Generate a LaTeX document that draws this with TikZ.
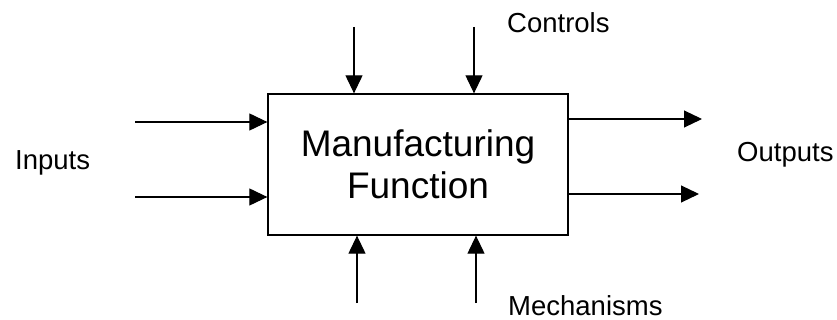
\documentclass[tikz,border=0pt]{standalone}
\usepackage{fontspec}
\setmainfont{Liberation Sans}
\usetikzlibrary{arrows.meta}
\begin{document}
\begin{tikzpicture}[x=1pt, y=-1pt, font=\fontsize{27.5}{32}\selectfont,
  arr/.style={-{Triangle[length=18pt,width=17pt]}, line width=1.1pt},
  fbox/.style={draw, line width=1.3pt, minimum width=300pt, minimum height=141pt,
    align=center, font=\fontsize{37}{42}\selectfont}]
\useasboundingbox (0,0) rectangle (837,320);

\node[fbox] (mf) at (418,164.5) {Manufacturing\\Function};

\coordinate (in1) at (135,122);
\coordinate (in2) at (135,197);
\coordinate (ct1) at (354,27);
\coordinate (ct2) at (474,27);
\coordinate (me1) at (357,303);
\coordinate (me2) at (476,303);
\coordinate (ou1) at (702,119);
\coordinate (ou2) at (699,194);

\draw[arr] (in1) -- (in1 -| mf.west);
\draw[arr] (in2) -- (in2 -| mf.west);
\draw[arr] (ct1) -- (ct1 |- mf.north);
\draw[arr] (ct2) -- (ct2 |- mf.north);
\draw[arr] (me1) -- (me1 |- mf.south);
\draw[arr] (me2) -- (me2 |- mf.south);
\draw[arr] (ou1 -| mf.east) -- (ou1);
\draw[arr] (ou2 -| mf.east) -- (ou2);

\node[anchor=base west, inner sep=0pt] (inputs) at (15,170) {Inputs};
\node[anchor=base west, inner sep=0pt] (controls) at (507,33) {Controls};
\node[anchor=base west, inner sep=0pt] (outputs) at (737,162) {Outputs};
\node[anchor=base west, inner sep=0pt] (mechs) at (508,315) {Mechanisms};
\end{tikzpicture}
\end{document}
